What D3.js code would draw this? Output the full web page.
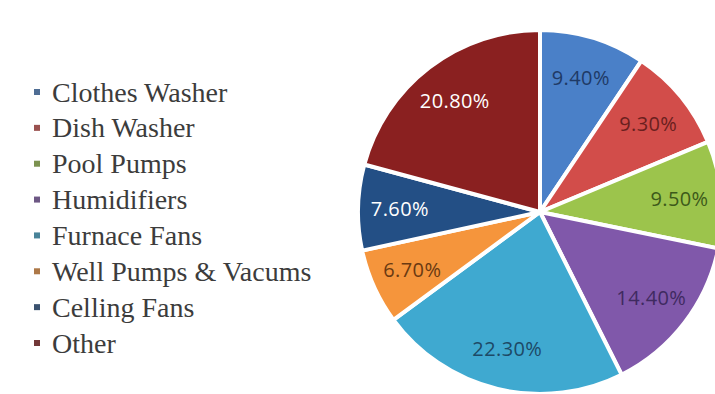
<!DOCTYPE html>
<html>
<head>
<meta charset="utf-8">
<script src="https://cdn.jsdelivr.net/npm/d3@7"></script>
<style>
  html, body { margin: 0; padding: 0; background: #ffffff; }
  svg { display: block; }
  .legend-text { font-family: "Liberation Serif", "DejaVu Serif", "Times New Roman", serif; }
  .pct { font-family: "Open Sans", "DejaVu Sans", sans-serif; }
</style>
</head>
<body>
<svg id="chart" width="715" height="394"></svg>
<script>
// Share of household electricity use by appliance
const categories = ["Clothes Washer", "Dish Washer", "Pool Pumps", "Humidifiers",
                    "Furnace Fans", "Well Pumps & Vacums", "Celling Fans", "Other"];
const shares = [9.4, 9.3, 9.5, 14.4, 22.3, 6.7, 7.6, 20.8];
const labels = ["9.40%", "9.30%", "9.50%", "14.40%", "22.30%", "6.70%", "7.60%", "20.80%"];
const colors = ["#4a80c8", "#d24d4a", "#9cc44c", "#8058aa", "#3fa9d0", "#f5953c", "#234f85", "#8a2020"];
const labelColors = ["#1f3a66", "#6a1f1e", "#3d5a1a", "#3f2a60", "#1d4a66", "#6a3a12", "#ffffff", "#ffffff"];

const svg = d3.select("#chart");
const cx = 540, cy = 212, radius = 182;

const pie = d3.pie().sort(null).value(d => d)(shares);
const arc = d3.arc().innerRadius(0).outerRadius(radius);
const labelArc = d3.arc().innerRadius(radius * 0.77).outerRadius(radius * 0.77);

const g = svg.append("g").attr("transform", `translate(${cx},${cy})`);

g.selectAll("path.slice")
  .data(pie)
  .join("path")
  .attr("class", "slice")
  .attr("d", arc)
  .attr("fill", (d, i) => colors[i])
  .attr("stroke", "#ffffff")
  .attr("stroke-width", 4)
  .attr("stroke-linejoin", "round");

g.selectAll("text.pct")
  .data(pie)
  .join("text")
  .attr("class", "pct")
  .attr("transform", d => `translate(${labelArc.centroid(d)})`)
  .attr("text-anchor", "middle")
  .attr("dominant-baseline", "central")
  .attr("font-size", 20)
  .attr("letter-spacing", 0.4)
  .attr("fill", (d, i) => labelColors[i])
  .text((d, i) => labels[i]);

// Legend
const legendY = d3.scalePoint().domain(categories).range([92, 343]);
const legend = svg.append("g");
const item = legend.selectAll("g.item")
  .data(categories)
  .join("g")
  .attr("class", "item")
  .attr("transform", d => `translate(0,${legendY(d)})`);

item.append("rect")
  .attr("x", 34)
  .attr("y", -3)
  .attr("width", 6)
  .attr("height", 6)
  .attr("fill", (d, i) => d3.interpolateRgb(colors[i], "#555555")(0.45));

item.append("text")
  .attr("class", "legend-text")
  .attr("x", 52)
  .attr("y", 0)
  .attr("dominant-baseline", "central")
  .attr("font-size", 28)
  .attr("fill", "#3c3c3c")
  .text(d => d);
</script>
</body>
</html>
